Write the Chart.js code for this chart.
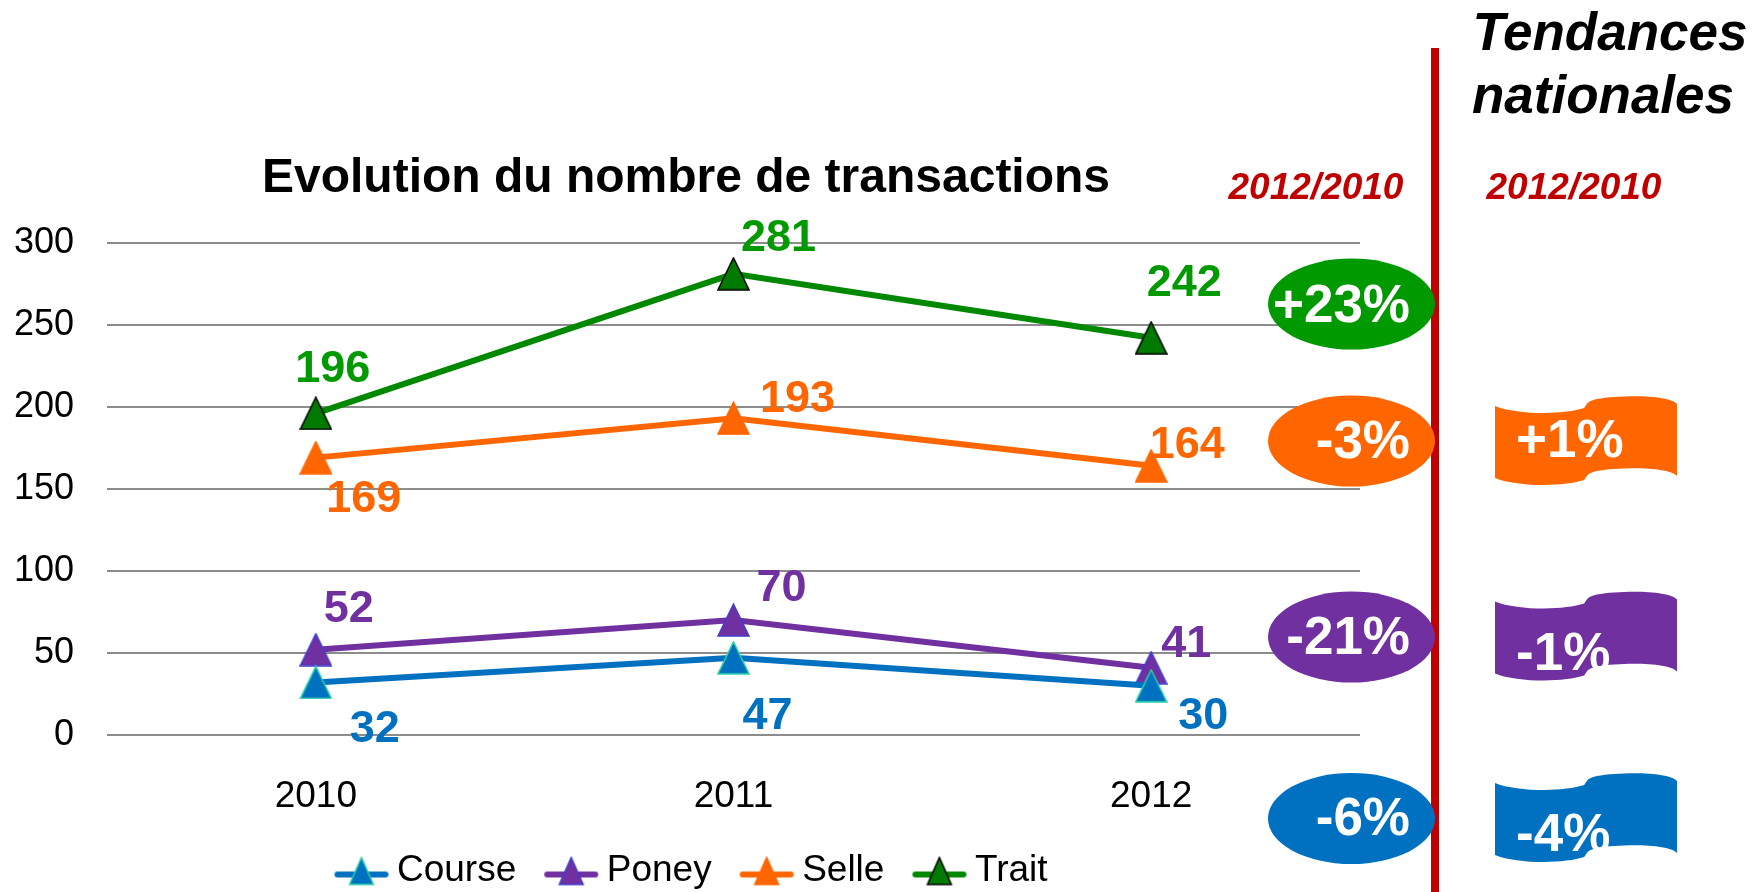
<!DOCTYPE html>
<html lang="fr">
<head>
<meta charset="utf-8">
<title>Evolution du nombre de transactions</title>
<script src="https://cdn.jsdelivr.net/npm/chart.js@4.4.1/dist/chart.umd.min.js"></script>
<style>
  html, body { margin: 0; padding: 0; background: #fff; width: 1763px; height: 892px; overflow: hidden; }
  #wrap { position: absolute; left: 12px; top: 0; width: 1348px; height: 899px; }
  #panel { position: absolute; left: 0; top: 0; }
  #panel text { font-family: "Liberation Sans", Arial, sans-serif; font-weight: bold; }
</style>
</head>
<body>
<div id="wrap"><canvas id="chart"></canvas></div>
<svg id="panel" width="1763" height="892" xmlns="http://www.w3.org/2000/svg"></svg>
<script>
// données
const years = ['2010', '2011', '2012'];
const seriesNames = ['Course', 'Poney', 'Selle', 'Trait'];
const course = [32, 47, 30];
const poney = [52, 70, 41];
const selle = [169, 193, 164];
const trait = [196, 281, 242];
const yTicks = [0, 50, 100, 150, 200, 250, 300];
const localChange = ['-6%', '-21%', '-3%', '+23%'];     // 2012/2010, même ordre que seriesNames
const nationalChange = ['-4%', '-1%', '+1%'];            // Course, Poney, Selle
const periodLabel = '2012/2010';
const panelTitle = ['Tendances', 'nationales'];

// couleurs
const lineColors = ['#0070C0', '#7030A0', '#FF6600', '#008800'];
const labelColors = ['#0070C0', '#7030A0', '#FF6600', '#009900'];
const markerFill = ['#0070C0', '#7030A0', '#FF6600', '#007A00'];
const markerBorder = ['#2BD1A8', '#3F3FD0', '#FF6600', '#000000'];
const bubbleColors = ['#0070C0', '#7030A0', '#FF6600', '#009900'];

// décalage des étiquettes par rapport au point (px)
const labelOffsets = [
    [[59, 47], [34, 59], [52, 31]],
    [[33, -40], [48, -32], [35, -23]],
    [[48, 42], [64, -19], [36, -20]],
    [[17, -44], [45, -35], [33, -54]]
];

const FONT = '"Liberation Sans", Arial, sans-serif';
Chart.defaults.font.family = FONT;
Chart.defaults.color = '#000';

// triangle des points
function triangleImage(fill, stroke, w, h) {
    const c = document.createElement('canvas');
    c.width = w + 2;
    c.height = h + 2;
    const g = c.getContext('2d');
    g.beginPath();
    g.moveTo((w + 2) / 2, 1);
    g.lineTo(w + 1, h + 1);
    g.lineTo(1, h + 1);
    g.closePath();
    g.fillStyle = fill;
    g.fill();
    g.lineWidth = 1.5;
    g.strokeStyle = stroke;
    g.stroke();
    return c;
}

// icône de légende : trait + triangle
function legendIcon(i) {
    const c = document.createElement('canvas');
    c.width = 56;
    c.height = 36;
    const g = c.getContext('2d');
    g.strokeStyle = lineColors[i];
    g.lineWidth = 6;
    g.lineCap = 'round';
    g.beginPath();
    g.moveTo(4, 22);
    g.lineTo(52, 22);
    g.stroke();
    g.drawImage(triangleImage(markerFill[i], markerBorder[i], 24, 27), 15, 4);
    return c;
}

const markers = seriesNames.map((n, i) => triangleImage(markerFill[i], markerBorder[i], 31, 32));
const legendIcons = seriesNames.map((n, i) => legendIcon(i));
const values = [course, poney, selle, trait];

const pointLabels = {
    id: 'pointLabels',
    afterDatasetsDraw(chart) {
        const ctx = chart.ctx;
        ctx.save();
        ctx.font = 'bold 45px ' + FONT;
        ctx.textAlign = 'center';
        ctx.textBaseline = 'middle';
        chart.data.datasets.forEach((ds, i) => {
            chart.getDatasetMeta(i).data.forEach((pt, j) => {
                const off = labelOffsets[i][j];
                ctx.fillStyle = labelColors[i];
                ctx.fillText(String(ds.data[j]), pt.x + off[0], pt.y + off[1]);
            });
        });
        ctx.restore();
    }
};

// la légende est un peu décalée vers la droite dans l'original
const legendShift = {
    id: 'legendShift',
    afterLayout(chart) {
        if (chart.legend) {
            chart.legend.left += 10;
            chart.legend.right += 10;
        }
    }
};

new Chart(document.getElementById('chart'), {
    type: 'line',
    data: {
        labels: years,
        datasets: seriesNames.map((name, i) => ({
            label: name,
            data: values[i],
            borderColor: lineColors[i],
            backgroundColor: markerFill[i],
            borderWidth: 6,
            pointStyle: markers[i],
            pointRadius: 16,
            tension: 0,
            fill: false
        }))
    },
    options: {
        responsive: true,
        maintainAspectRatio: false,
        animation: false,
        layout: { padding: 0, autoPadding: false },
        scales: {
            x: {
                offset: true,
                grid: { display: false, drawTicks: false, tickLength: 0 },
                border: { display: false },
                ticks: { font: { size: 37 }, color: '#000', padding: 40 },
                afterFit: (scale) => { scale.height = 79; }
            },
            y: {
                min: 0,
                max: 300,
                afterBuildTicks: (scale) => { scale.ticks = yTicks.map(v => ({ value: v })); },
                grid: { color: '#8C8C8C', lineWidth: 2, drawTicks: false, tickLength: 0 },
                border: { display: false },
                ticks: { font: { size: 36 }, color: '#000', padding: 33 },
                afterFit: (scale) => { scale.width = 95; }
            }
        },
        plugins: {
            title: {
                display: true,
                text: 'Evolution du nombre de transactions',
                color: '#000',
                font: { size: 48, weight: 'bold' },
                padding: { top: 150, bottom: 35 }
            },
            legend: {
                position: 'bottom',
                labels: {
                    usePointStyle: true,
                    pointStyleWidth: 34,
                    padding: 38,
                    color: '#000',
                    font: { size: 37 },
                    generateLabels: (chart) => chart.data.datasets.map((ds, i) => ({
                        text: ds.label,
                        pointStyle: legendIcons[i],
                        fillStyle: ds.borderColor,
                        strokeStyle: ds.borderColor,
                        lineWidth: 0,
                        hidden: false,
                        datasetIndex: i
                    }))
                }
            },
            tooltip: { enabled: false }
        }
    },
    plugins: [pointLabels, legendShift]
});

// panneau de droite (pastilles, tendances nationales)
const NS = 'http://www.w3.org/2000/svg';
const svg = document.getElementById('panel');
function el(tag, attrs, text) {
    const e = document.createElementNS(NS, tag);
    for (const k in attrs) e.setAttribute(k, attrs[k]);
    if (text !== undefined) e.textContent = text;
    svg.appendChild(e);
    return e;
}

const bubbleCy = [818.5, 637, 441, 304];
const bubbleDy = [16.5, 17, 17, 18];
const flagTop = [773, 591.5, 396];
const flagTextDy = [78, 78, 61];

function flagPath(x0, y0, w, h) {
    const P = (u, v) => (x0 + u * w).toFixed(1) + ',' + (y0 + v * h).toFixed(1);
    return 'M' + P(0, 0.11) +
        ' C' + P(0.12, 0.21) + ' ' + P(0.38, 0.21) + ' ' + P(0.49, 0.135) +
        ' C' + P(0.505, 0.1) + ' ' + P(0.5, 0.06) + ' ' + P(0.56, 0.035) +
        ' C' + P(0.7, -0.015) + ' ' + P(0.97, -0.01) + ' ' + P(1, 0.09) +
        ' L' + P(1, 0.89) +
        ' C' + P(0.97, 0.79) + ' ' + P(0.7, 0.785) + ' ' + P(0.56, 0.835) +
        ' C' + P(0.5, 0.86) + ' ' + P(0.505, 0.9) + ' ' + P(0.49, 0.935) +
        ' C' + P(0.38, 1.01) + ' ' + P(0.12, 1.01) + ' ' + P(0, 0.91) + ' Z';
}

el('rect', { x: 1431, y: 48, width: 8, height: 850, fill: '#C00000' });

localChange.forEach((txt, i) => {
    el('ellipse', { cx: 1351.5, cy: bubbleCy[i], rx: 83.5, ry: 45.5, fill: bubbleColors[i] });
    el('text', { x: 1410, y: bubbleCy[i] + bubbleDy[i], 'text-anchor': 'end', 'font-size': 53, fill: '#fff' }, txt);
});

nationalChange.forEach((txt, i) => {
    el('path', { d: flagPath(1495, flagTop[i], 182, 90), fill: bubbleColors[i] });
    el('text', { x: 1516, y: flagTop[i] + flagTextDy[i], 'font-size': 53, fill: '#fff' }, txt);
});

el('text', { x: 1316, y: 199, 'text-anchor': 'middle', 'font-size': 37, 'font-style': 'italic', fill: '#C00000' }, periodLabel);
el('text', { x: 1574, y: 199, 'text-anchor': 'middle', 'font-size': 37, 'font-style': 'italic', fill: '#C00000' }, periodLabel);
el('text', { x: 1610, y: 50, 'text-anchor': 'middle', 'font-size': 53, 'font-style': 'italic', fill: '#000' }, panelTitle[0]);
el('text', { x: 1603, y: 113, 'text-anchor': 'middle', 'font-size': 53, 'font-style': 'italic', fill: '#000' }, panelTitle[1]);
</script>
</body>
</html>
